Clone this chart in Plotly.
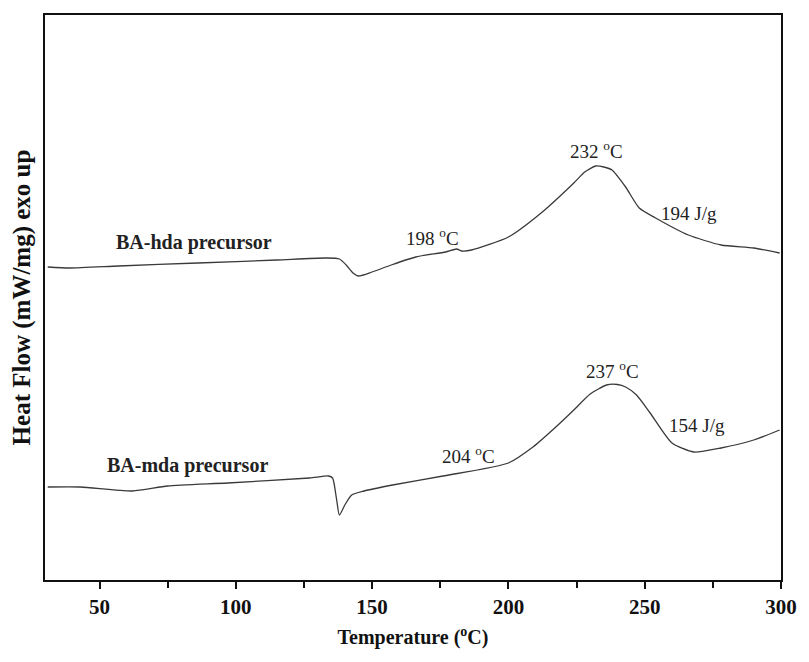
import plotly.graph_objects as go

# BA-hda precursor (upper curve)
hda_temp = [31, 39, 57, 86, 115, 133, 138, 140.5, 143, 145, 150, 157, 166, 177, 181, 183, 186.5,
            200, 212, 224, 228, 232, 235, 238, 243, 248, 254, 266, 278, 290, 299.5]
hda_flow = [3.13, 3.12, 3.14, 3.17, 3.20, 3.22, 3.21, 3.15, 3.07, 3.04, 3.08, 3.15, 3.23, 3.28, 3.31, 3.29, 3.30,
            3.43, 3.67, 3.97, 4.08, 4.14, 4.13, 4.10, 3.93, 3.72, 3.62, 3.45, 3.35, 3.32, 3.27]

# BA-mda precursor (lower curve)
mda_temp = [31, 43, 62, 75, 97, 127, 134, 135.5, 137, 138, 140, 142.5, 147, 157.5, 176, 200, 209, 217,
            224, 230, 236, 240, 243, 247, 252, 260, 268, 278, 290, 299.5]
mda_flow = [0.93, 0.93, 0.89, 0.94, 0.97, 1.02, 1.04, 1.02, 0.80, 0.65, 0.75, 0.85, 0.89, 0.95, 1.04, 1.17, 1.33, 1.52,
            1.70, 1.86, 1.95, 1.955, 1.93, 1.85, 1.67, 1.37, 1.28, 1.32, 1.40, 1.50]

x_ticks = [50, 100, 150, 200, 250, 300]

# annotations: text, x, y, bold
labels = [
    ("BA-hda precursor", 84.7, 3.38, True),
    ("BA-mda precursor", 82.2, 1.15, True),
    ("198 <sup>o</sup>C", 172, 3.43, False),
    ("232 <sup>o</sup>C", 232.2, 4.30, False),
    ("194 J/g", 266.2, 3.67, False),
    ("204 <sup>o</sup>C", 185.4, 1.25, False),
    ("237 <sup>o</sup>C", 238.3, 2.10, False),
    ("154 J/g", 269.1, 1.55, False),
]

SERIF = "Liberation Serif, Times New Roman, serif"

fig = go.Figure()
for t, f in [(hda_temp, hda_flow), (mda_temp, mda_flow)]:
    fig.add_trace(go.Scatter(x=t, y=f, mode="lines",
                             line=dict(color="#3a3a3a", width=1.3, shape="spline", smoothing=0.6),
                             showlegend=False, hoverinfo="skip"))

for text, x, y, bold in labels:
    fig.add_annotation(x=x, y=y, text=f"<b>{text}</b>" if bold else text,
                       showarrow=False, xanchor="center", yanchor="middle",
                       font=dict(family=SERIF, size=20 if bold else 19, color="#222"))

fig.update_layout(
    width=809, height=662,
    margin=dict(l=45, r=19, t=15, b=82),
    paper_bgcolor="white", plot_bgcolor="white",
    font=dict(family=SERIF, color="#111"),
    xaxis=dict(range=[30, 300], tickvals=x_ticks,
               ticktext=[f"<b>{v}</b>" for v in x_ticks],
               tickfont=dict(family=SERIF, size=21, color="#111"),
               ticks="outside", ticklen=7, tickwidth=2, tickcolor="#111",
               minor=dict(tickvals=[75, 125, 175, 225, 275], ticks="outside", ticklen=6,
                          tickwidth=1.5, tickcolor="#111"),
               showline=True, linewidth=2, linecolor="#111", mirror=True,
               showgrid=False, zeroline=False,
               title=dict(text="<b>Temperature (<sup>o</sup>C)</b>",
                          font=dict(family=SERIF, size=20, color="#111"), standoff=12)),
    yaxis=dict(range=[0, 5.65], showticklabels=False, ticks="",
               showline=True, linewidth=2, linecolor="#111", mirror=True,
               showgrid=False, zeroline=False,
               title=dict(text="<b>Heat Flow (mW/mg) exo up</b>",
                          font=dict(family=SERIF, size=25, color="#111"), standoff=5)),
)

fig.write_html("out.html")
